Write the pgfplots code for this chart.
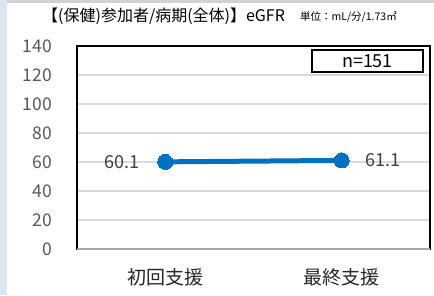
\documentclass[border=0pt]{standalone}
\usepackage{fontspec}
\setmainfont{Noto Sans CJK JP}
\usepackage{pgfplots}
\pgfplotsset{compat=1.18}
\definecolor{lineblue}{HTML}{0070C0}
\definecolor{gridgray}{HTML}{D9D9D9}
\definecolor{ticktext}{HTML}{595959}
\definecolor{labeltext}{HTML}{404040}
\definecolor{stripblue}{HTML}{DCE6F2}
\begin{document}
\begin{tikzpicture}[x=1bp,y=1bp]
\useasboundingbox (0,0) rectangle (434,295);
\fill[white] (0,0) rectangle (434,295);
\fill[stripblue] (0,0) rectangle (7,295);
\fill[gray!35] (7,292) rectangle (434,295);
\begin{axis}[
  at={(77bp,46bp)}, anchor=south west,
  scale only axis, width=353bp, height=203bp,
  xmin=-0.5, xmax=1.5, ymin=0, ymax=140,
  xtick={0,1}, xticklabels={初回支援,最終支援},
  ytick={0,20,...,140},
  /pgf/number format/assume math mode=true,
  major tick length=0pt,
  ymajorgrids, grid style={gridgray, line width=1.5bp},
  axis line style={black, line width=1.6bp},
  yticklabel style={font=\fontsize{17.5bp}{20bp}\selectfont, text=ticktext, anchor=east, inner sep=0pt, xshift=-25bp},
  xticklabel style={font=\fontsize{19bp}{22bp}\selectfont, text=black!85, anchor=center, inner sep=0pt, yshift=-28bp},
  nodes near coords,
  point meta=y,
  nodes near coords style={font=\fontsize{18bp}{20bp}\selectfont, text=labeltext, inner sep=0pt,
    /pgf/number format/.cd, fixed, fixed zerofill, precision=1},
  coordinate style/.condition={x==0}{anchor=east, xshift=-26bp},
  coordinate style/.condition={x==1}{anchor=west, xshift=24bp},
  clip=false,
]
\addplot[lineblue, line width=5bp, mark=*, mark size=7.5bp, mark options={fill=lineblue, draw=lineblue, line width=0pt}] coordinates {(0,60.1) (1,61.1)};
\draw[gray!70, line width=1.6bp] (rel axis cs:0,0) -- (rel axis cs:1,0);
\end{axis}
\node[anchor=west, inner sep=0pt, font=\fontsize{16bp}{18bp}\selectfont] at (42,279) {【(保健)参加者/病期(全体)】eGFR};
\node[anchor=west, inner sep=0pt, font=\fontsize{10.5bp}{13bp}\selectfont] at (300,278) {単位：mL/分/1.73㎡};
\draw[black, line width=1.5bp] (312,223) rectangle (423,245);
\node[inner sep=0pt, font=\fontsize{18bp}{20bp}\selectfont] at (367.5,234) {n=151};
\end{tikzpicture}
\end{document}
